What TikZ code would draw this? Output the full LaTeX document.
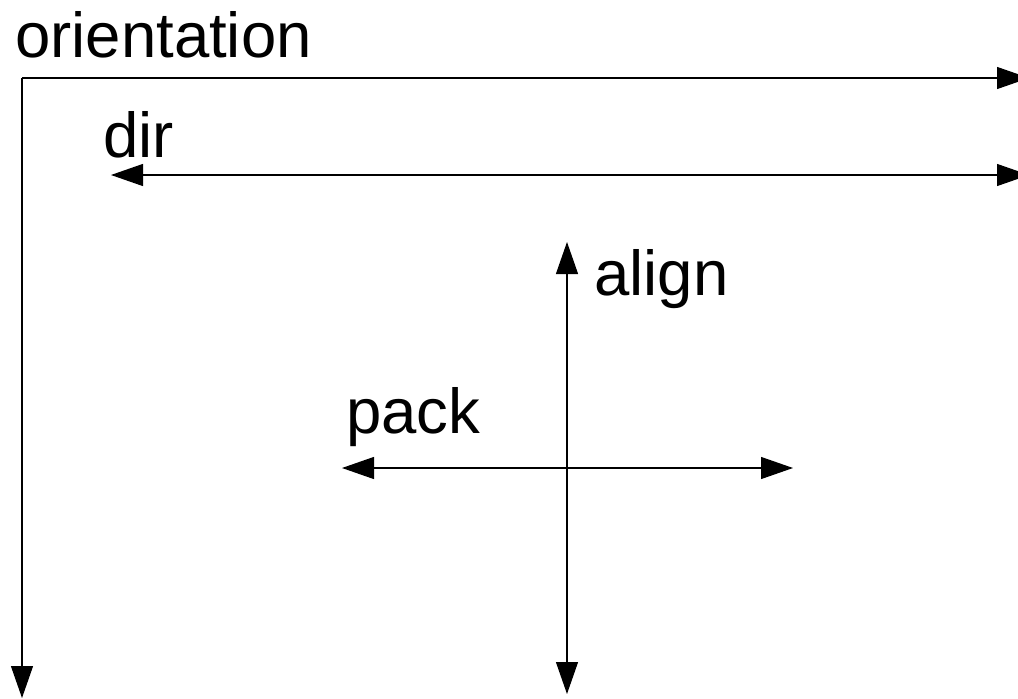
\documentclass[tikz,border=0pt]{standalone}
\usepackage{fontspec}
\setmainfont{Liberation Sans}
\usetikzlibrary{arrows.meta}
\begin{document}
\begin{tikzpicture}[x=1pt,y=-1pt,
  axis/.style={line width=1.2pt, draw=black},
  tip/.style={-{Triangle[length=32pt,width=22pt]}},
  both/.style={{Triangle[length=32pt,width=22pt]}-{Triangle[length=32pt,width=22pt]}},
  lbl/.style={anchor=base west, inner sep=0pt, font=\fontsize{63.5}{72}\selectfont}]
\useasboundingbox (0,0) rectangle (1018,699);

% labels
\node[lbl] (orient) at (15,57) {orientation};
\node[lbl] (dirl) at (103,157) {dir};
\node[lbl] (alignl) at (594,295) {align};
\node[lbl] (packl) at (346,433) {pack};

% end points of the arrows
\coordinate (corner) at (22,78);
\coordinate (oright) at (1029,78);
\coordinate (odown) at (22,698);
\coordinate (dleft) at (111,175);
\coordinate (dright) at (1029,175);
\coordinate (atop) at (567,242);
\coordinate (abot) at (567,694);
\coordinate (pleft) at (342,468);
\coordinate (pright) at (793,468);

% orientation: two arrows from the corner
\draw[axis,tip] (corner) -- (oright);
\draw[axis,tip] (corner) -- (odown);
% dir
\draw[axis,both] (dleft) -- (dright);
% align and pack
\draw[axis,both] (atop) -- (abot);
\draw[axis,both] (pleft) -- (pright);
\end{tikzpicture}
\end{document}
